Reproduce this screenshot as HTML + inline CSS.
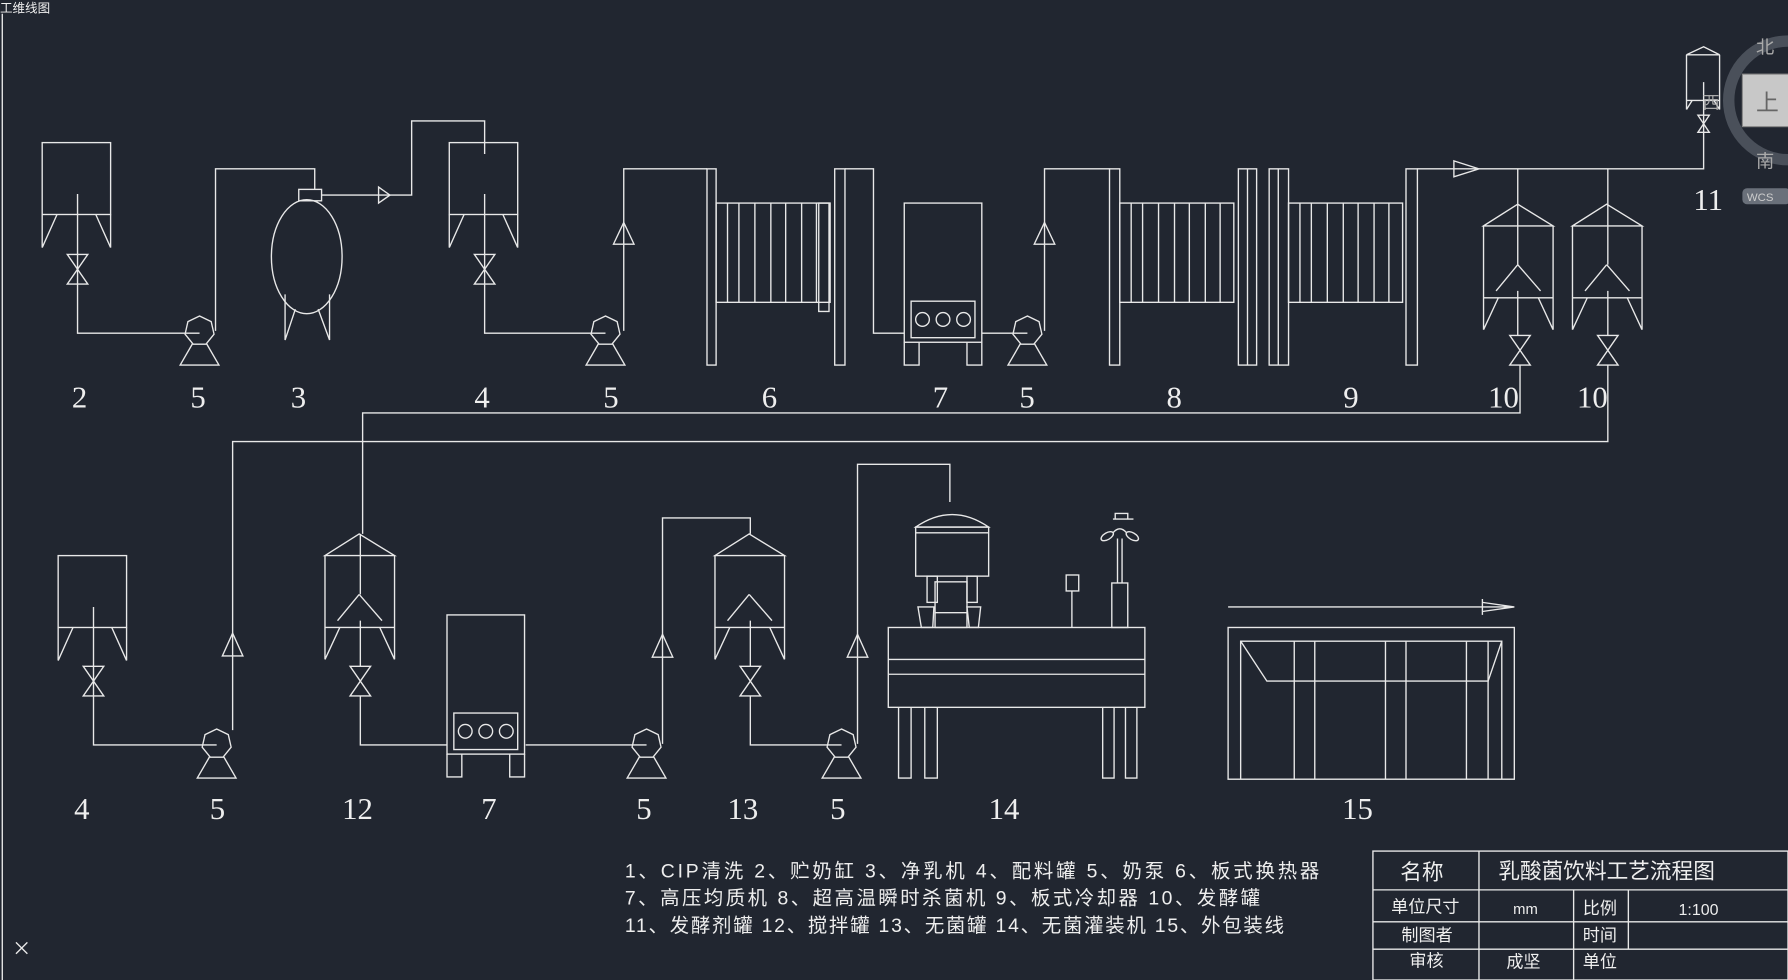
<!DOCTYPE html>
<html><head><meta charset="utf-8"><style>
html,body{margin:0;padding:0;background:#212630;overflow:hidden}
svg{display:block}
text{font-family:"Liberation Sans","Noto Sans CJK SC",sans-serif;fill:#eeeeee}
.n{font-family:"Liberation Serif","Noto Serif CJK SC",serif;font-size:27px}
</style></head><body>
<svg width="1788" height="980" viewBox="0 0 1568 859" preserveAspectRatio="none" xmlns="http://www.w3.org/2000/svg">
<rect width="1568" height="859" fill="#212630"/>
<defs>
<g id="pump" fill="none" stroke="#e8e8e8" stroke-width="1.2">
<polygon points="0,-13 10.2,-8.1 12.7,2.9 5.6,11.7 -5.6,11.7 -12.7,2.9 -10.2,-8.1"/>
<path d="M-6,11 L-17,30 L17,30 L6,11"/>
</g>
<g id="valve" fill="none" stroke="#e8e8e8" stroke-width="1.2"><path d="M-9,-13 L9,-13 L-9,13 L9,13 Z"/></g>
<g id="tankA" fill="none" stroke="#e8e8e8" stroke-width="1.2">
<rect x="0" y="0" width="60" height="63"/>
<path d="M0,63 V92 M13,63 L0,92 M60,63 V92 M47,63 L60,92"/>
</g>
<g id="tankB" fill="none" stroke="#e8e8e8" stroke-width="1.2">
<path d="M0,19 L30,0 L61,19 Z M0,19 V82 H61 V19 M0,82 V110 M13,82 L0,110 M61,82 V110 M48,82 L61,110 M30,53 L11,76 M30,53 L50,76"/>
</g>
<g id="homog" fill="none" stroke="#e8e8e8" stroke-width="1.2">
<rect x="0" y="0" width="68" height="122"/>
<rect x="6" y="86" width="56" height="32"/>
<circle cx="16" cy="102" r="6"/><circle cx="34" cy="102" r="6"/><circle cx="52" cy="102" r="6"/>
<path d="M0,122 V142 H13 V122 M55,122 V142 H68 V122"/>
</g>
<g id="plates" fill="none" stroke="#e8e8e8" stroke-width="1.2">
<rect x="0" y="0" width="100" height="87"/>
<path d="M10,0V87 M20,0V87 M34,0V87 M48,0V87 M61,0V87 M75,0V87 M88,0V87"/>
</g>
</defs>
<g fill="none" stroke="#e8e8e8" stroke-width="1.2">
<line x1="2" y1="12" x2="2" y2="859"/>
<use href="#tankA" x="37" y="125"/>
<use href="#valve" x="68" y="236"/>
<path d="M68,170 V292 H175"/>
<use href="#pump" x="175" y="290"/>
<path d="M189,290 V148 H276 V166"/>
<rect x="262" y="166" width="20" height="10"/>
<ellipse cx="269" cy="225" rx="31" ry="50"/>
<path d="M250,258 V298 L259,271 M289,258 V298 L279,271"/>
<path d="M282,171 H361 V106 H425 V135"/>
<path d="M332,164 L342,171 L332,178 Z"/>
<use href="#tankA" x="394" y="125"/>
<use href="#valve" x="425" y="236"/>
<path d="M425,170 V292 H531"/>
<use href="#pump" x="531" y="290"/>
<path d="M547,290 V148 H620"/>
<path d="M547,195 L538,214 H556 Z"/>
<rect x="620" y="148" width="8" height="172"/>
<use href="#plates" x="628" y="178"/>
<rect x="718" y="178" width="9" height="95"/>
<rect x="732" y="148" width="9" height="172"/>
<path d="M741,148 H766 V292 H793"/>
<use href="#homog" x="793" y="178"/>
<path d="M861,292 H901"/>
<use href="#pump" x="901" y="290"/>
<path d="M916,290 V148 H973"/>
<path d="M916,195 L907,214 H925 Z"/>
<rect x="973" y="148" width="9" height="172"/>
<use href="#plates" x="982" y="178"/>
<rect x="1086" y="148" width="16" height="172"/>
<line x1="1094" y1="148" x2="1094" y2="320"/>
<rect x="1113" y="148" width="17" height="172"/>
<line x1="1121" y1="148" x2="1121" y2="320"/>
<use href="#plates" x="1130" y="178"/>
<rect x="1233" y="148" width="10" height="172"/>
<path d="M1243,148 H1494 V72"/>
<path d="M1275,141 L1297,148 L1275,155 Z"/>
<use href="#tankB" x="1301" y="179"/>
<use href="#tankB" x="1379" y="179"/>
<path d="M1331,148 V232 M1410,148 V232"/>
<use href="#valve" x="1333" y="307"/>
<use href="#valve" x="1410" y="307"/>
<path d="M1331,255 V294 M1410,255 V294"/>
<path d="M1333,320 V362 H318 V468"/>
<path d="M1410,320 V387 H204 V640"/>
<path d="M1479,48 L1494,41 L1508,48 Z M1479,48 V88 H1508 V48 M1479,88 V96 M1508,88 V96 M1484,88 L1479,96 M1503,88 L1508,96"/>
<path d="M1489,101 L1499,101 L1489,116 L1499,116 Z"/>
<use href="#tankA" x="51" y="487"/>
<use href="#valve" x="82" y="597"/>
<path d="M82,532 V653 H190"/>
<use href="#pump" x="190" y="652"/>
<path d="M204,555 L195,575 H213 Z"/>
<use href="#tankB" x="285" y="468"/>
<path d="M316,468 V521 M316,544 V584"/>
<use href="#valve" x="316" y="597"/>
<path d="M316,610 V653 H392"/>
<use href="#homog" x="392" y="539"/>
<path d="M461,653 H567"/>
<use href="#pump" x="567" y="652"/>
<path d="M581,652 V454 H658 V468"/>
<path d="M581,556 L572,576 H590 Z"/>
<use href="#tankB" x="627" y="468"/>
<path d="M658,544 V584"/>
<use href="#valve" x="658" y="597"/>
<path d="M658,610 V653 H738"/>
<use href="#pump" x="738" y="652"/>
<path d="M752,652 V407 H833 V440"/>
<path d="M752,556 L743,576 H761 Z"/>
<path d="M803,462 Q835,440 867,462 Z"/>
<rect x="803" y="462" width="64" height="43"/>
<line x1="803" y1="467" x2="867" y2="467"/>
<rect x="813" y="505" width="9" height="23"/>
<rect x="848" y="505" width="9" height="23"/>
<path d="M805,532 L808,550 H818 L819,532 Z M848,532 L850,550 H858 L860,532 Z"/>
<rect x="820" y="510" width="28" height="40"/>
<line x1="820" y1="537" x2="848" y2="537"/>
<rect x="779" y="550" width="225" height="70"/>
<path d="M779,578 H1004 M779,591 H1004"/>
<path d="M788,620 V682 H799 V620 M811,620 V682 H822 V620 M967,620 V682 H977 V620 M987,620 V682 H997 V620"/>
<rect x="935" y="504" width="11" height="14"/>
<line x1="940" y1="518" x2="940" y2="550"/>
<rect x="975" y="511" width="14" height="39"/>
<path d="M980,511 V472 M984,511 V472"/>
<path d="M976,455 H994 M978,455 V450 H989 V455"/>
<ellipse cx="971" cy="470" rx="6" ry="3" transform="rotate(-30 971 470)"/>
<ellipse cx="993" cy="470" rx="6" ry="3" transform="rotate(30 993 470)"/>
<path d="M976,467 Q982,460 988,467"/>
<path d="M1077,532 H1328 M1300,528 L1328,532 L1300,536 M1300,525 V539"/>
<rect x="1077" y="550" width="251" height="133"/>
<path d="M1088,683 V562 H1317 V683 M1088,562 L1111,597 H1305 L1317,562"/>
<path d="M1135,562 V683 M1153,562 V683 M1215,562 V683 M1233,562 V683 M1286,562 V683 M1305,562 V683"/>
<rect x="1204" y="746" width="364" height="113"/>
<path d="M1204,780 H1568 M1204,808 H1568 M1204,832 H1568 M1297,746 V859 M1380,780 V859 M1428,780 V832"/>
<path d="M14,826 L24,836 M24,826 L14,836"/>
</g>
<circle cx="1568" cy="88" r="52" fill="none" stroke="#4a505a" stroke-width="10"/>
<rect x="1528" y="65" width="45" height="46" fill="#c8c8c8" stroke="#888"/>
<text x="1540" y="97" font-size="20" style="fill:#666">上</text>
<text x="1540" y="47" font-size="16" style="fill:#aaa">北</text>
<text x="1540" y="147" font-size="16" style="fill:#aaa">南</text>
<text x="1493" y="95" font-size="15" style="fill:#aaa">西</text>
<rect x="1528" y="165" width="42" height="14" rx="4" fill="#6a707a"/>
<text x="1532" y="176" font-size="10" style="fill:#ccc">WCS</text>
<text x="0" y="11" font-size="11">工维线图</text>
<g>
<text x="63" y="357" class="n">2</text><text x="167" y="357" class="n">5</text><text x="255" y="357" class="n">3</text>
<text x="416" y="357" class="n">4</text><text x="529" y="357" class="n">5</text><text x="668" y="357" class="n">6</text>
<text x="818" y="357" class="n">7</text><text x="894" y="357" class="n">5</text><text x="1023" y="357" class="n">8</text>
<text x="1178" y="357" class="n">9</text><text x="1305" y="357" class="n">10</text><text x="1383" y="357" class="n">10</text>
<text x="1485" y="184" class="n">11</text>
<text x="65" y="718" class="n">4</text><text x="184" y="718" class="n">5</text><text x="300" y="718" class="n">12</text>
<text x="422" y="718" class="n">7</text><text x="558" y="718" class="n">5</text><text x="638" y="718" class="n">13</text>
<text x="728" y="718" class="n">5</text><text x="867" y="718" class="n">14</text><text x="1177" y="718" class="n">15</text>
</g>
<text x="548" y="769" font-size="17" textLength="609" lengthAdjust="spacing">1、CIP清洗 2、贮奶缸 3、净乳机 4、配料罐 5、奶泵 6、板式换热器</text>
<text x="548" y="793" font-size="17" textLength="557" lengthAdjust="spacing">7、高压均质机 8、超高温瞬时杀菌机 9、板式冷却器 10、发酵罐</text>
<text x="548" y="817" font-size="17" textLength="578" lengthAdjust="spacing">11、发酵剂罐 12、搅拌罐 13、无菌罐 14、无菌灌装机 15、外包装线</text>
<text x="1228" y="771" font-size="19">名称</text>
<text x="1314" y="770" font-size="19">乳酸菌饮料工艺流程图</text>
<text x="1220" y="800" font-size="15">单位尺寸</text>
<text x="1327" y="801" font-size="13">mm</text>
<text x="1388" y="801" font-size="15">比例</text>
<text x="1472" y="802" font-size="14">1:100</text>
<text x="1229" y="825" font-size="15">制图者</text>
<text x="1388" y="825" font-size="15">时间</text>
<text x="1236" y="847" font-size="15">审核</text>
<text x="1321" y="848" font-size="15">成坚</text>
<text x="1388" y="848" font-size="15">单位</text>
</svg>
</body></html>
